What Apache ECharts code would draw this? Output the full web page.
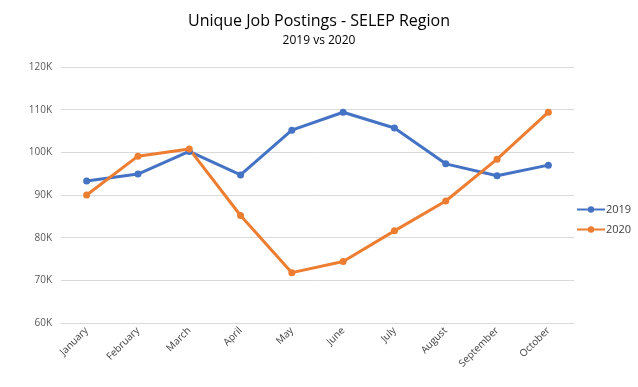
<!DOCTYPE html>
<html>
<head>
<meta charset="utf-8">
<script src="https://cdn.jsdelivr.net/npm/echarts@6/dist/echarts.min.js"></script>
<style>
html,body{margin:0;padding:0;background:#fff;}
#chart{width:638px;height:387px;}
</style>
</head>
<body>
<div id="chart"></div>
<script>
const months = ['January','February','March','April','May','June','July','August','September','October'];
const series2019 = [93300, 94900, 100200, 94700, 105200, 109400, 105700, 97300, 94500, 97000];
const series2020 = [90000, 99100, 100800, 85200, 71800, 74400, 81600, 88600, 98400, 109400];
const yTicks = { min: 60000, max: 120000, interval: 10000 };

const chart = echarts.init(document.getElementById('chart'));
const font = 'Open Sans, Liberation Sans, sans-serif';
chart.setOption({
  backgroundColor: '#ffffff',
  animation: false,
  title: {
    text: 'Unique Job Postings - SELEP Region',
    subtext: '2019 vs 2020',
    left: 'center',
    top: 8,
    itemGap: 6,
    textStyle: { fontFamily: font, fontSize: 16, fontWeight: 'normal', color: '#000' },
    subtextStyle: { fontFamily: font, fontSize: 12, color: '#000' }
  },
  legend: {
    orient: 'vertical',
    left: 571,
    top: 199,
    itemWidth: 28,
    itemHeight: 8,
    itemGap: 9,
    textStyle: { fontFamily: font, fontSize: 11, color: '#404040', padding: [0,0,0,-4] },
    data: ['2019', '2020']
  },
  grid: { left: 61, right: 64, top: 67, bottom: 64 },
  xAxis: {
    type: 'category',
    data: months,
    boundaryGap: true,
    axisLine: { lineStyle: { color: '#d9d9d9' } },
    axisTick: { show: false },
    axisLabel: { rotate: 45, fontFamily: font, fontSize: 10, color: '#404040', margin: 6, interval: 0 }
  },
  yAxis: {
    type: 'value',
    min: yTicks.min,
    max: yTicks.max,
    interval: yTicks.interval,
    axisLine: { show: false },
    axisTick: { show: false },
    splitLine: { lineStyle: { color: '#d9d9d9' } },
    axisLabel: {
      fontFamily: font, fontSize: 10, color: '#595959', margin: 9,
      formatter: v => (v / 1000) + 'K'
    }
  },
  series: [
    {
      name: '2019', type: 'line', data: series2019,
      symbol: 'circle', symbolSize: 7,
      lineStyle: { width: 3, color: '#4472C4' },
      itemStyle: { color: '#4472C4' }
    },
    {
      name: '2020', type: 'line', data: series2020,
      symbol: 'circle', symbolSize: 7,
      lineStyle: { width: 3, color: '#ED7D31' },
      itemStyle: { color: '#ED7D31' }
    }
  ]
});
</script>
</body>
</html>
